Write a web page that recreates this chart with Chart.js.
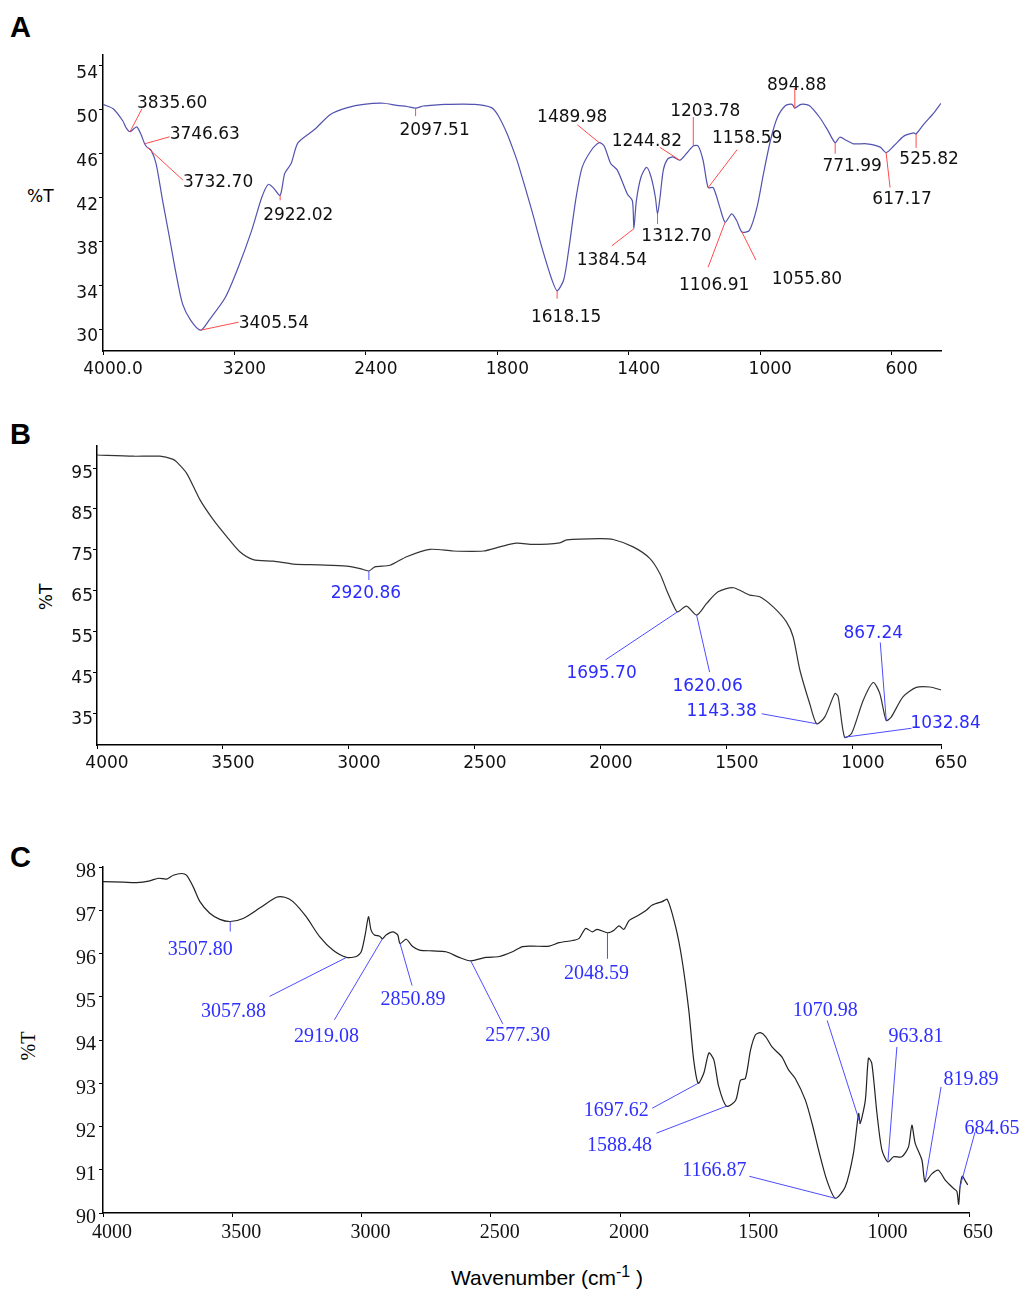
<!DOCTYPE html>
<html>
<head>
<meta charset="utf-8">
<script src="https://cdn.jsdelivr.net/npm/chart.js@4.4.0/dist/chart.umd.min.js"></script>
<style>
  body { margin: 0; background: #fff; width: 1027px; height: 1291px; position: relative; overflow: hidden; }
  canvas { position: absolute; left: 0; }
  .letter { position: absolute; left: 10px; font: bold 29px "Liberation Sans", Arial, sans-serif; color: #000; }
  .ylab { position: absolute; color: #000; white-space: nowrap; }
</style>
</head>
<body>
<div class="letter" style="top:11px">A</div>
<div class="letter" style="top:418px">B</div>
<div class="letter" style="top:841px">C</div>

<div class="ylab" style="left:27px;top:186px;font:17px 'DejaVu Sans',sans-serif">%T</div>
<div class="ylab" style="left:46px;top:597px;font:17px 'DejaVu Sans',sans-serif;transform:translate(-50%,-50%) rotate(-90deg)">%T</div>
<div class="ylab" style="left:28px;top:1046px;font:20px 'Liberation Serif',serif;transform:translate(-50%,-50%) rotate(-90deg)">%T</div>
<div class="ylab" style="left:547px;top:1263px;transform:translateX(-50%);font:21px 'Liberation Sans',Arial,sans-serif">Wavenumber (cm<sup style="font-size:16px">-1</sup> )</div>

<canvas id="chartA" width="1027" height="360" style="top:40px"></canvas>
<canvas id="chartB" width="1027" height="360" style="top:420px"></canvas>
<canvas id="chartC" width="1027" height="451" style="top:840px"></canvas>

<script>
// ---- panel A (x axis is compressed by 2 above 2000 cm-1) ----
const aWn = [4000, 3938, 3880, 3857, 3835.60, 3795, 3770, 3746.63, 3732.70, 3707, 3677, 3637, 3596, 3556, 3516, 3466,
  3405.54, 3355, 3255, 3175, 3095, 3034, 2994, 2964, 2922.02, 2894, 2855, 2813, 2713, 2614, 2512, 2413, 2293, 2211,
  2150, 2097.51, 2050, 2010, 1961, 1869, 1818, 1798, 1770, 1751, 1736, 1695, 1665, 1634, 1618.15, 1598, 1583, 1562,
  1542, 1512, 1489.98, 1475, 1455, 1435, 1404, 1389, 1384.54, 1377, 1363, 1346, 1332, 1319, 1312.70, 1305, 1295,
  1282, 1266, 1244.82, 1225, 1203.78, 1189, 1174, 1158.59, 1143, 1123, 1106.91, 1087, 1072, 1055.80, 1033, 1010,
  990, 969, 948, 923, 903, 894.88, 876, 851, 819, 794, 771.99, 758, 737, 717, 676, 635, 617.17, 594, 563, 533,
  525.82, 502, 471, 450];
const aT = [50.5, 50.1, 49.0, 48.3, 48.0, 48.45, 47.8, 46.9, 46.6, 46.3, 45.1, 41.7, 38.4, 35.1, 32.3, 30.8,
  29.9, 30.8, 32.9, 35.7, 39.0, 42.0, 43.2, 42.9, 42.2, 44.2, 45.1, 47.0, 48.2, 49.6, 50.2, 50.5, 50.6, 50.4,
  50.3, 50.15, 50.35, 50.4, 50.5, 50.5, 50.2, 49.5, 47.8, 46.3, 45.0, 40.8, 37.5, 34.5, 33.5, 34.5, 37.2, 41.7,
  44.75, 46.4, 47.0, 46.7, 45.1, 44.5, 42.3, 41.7, 39.15, 41.7, 43.85, 44.75, 43.85, 42.0, 40.5, 42.0, 44.5,
  45.5, 45.7, 45.4, 46.0, 46.7, 46.7, 45.4, 42.9, 42.9, 41.1, 39.75, 40.5, 39.9, 38.85, 39.0, 41.1,
  44.2, 47.2, 49.3, 50.4, 50.5, 50.15, 50.5, 50.4, 49.3, 48.1, 47.0, 47.5, 47.2, 46.9, 46.9, 46.6, 46.1, 46.7, 47.6, 47.9,
  47.8, 48.7, 49.75, 50.6];
const aXTicks = [4000, 3200, 2400, 1800, 1400, 1000, 600];
const aXTickLabels = ['4000.0', '3200', '2400', '1800', '1400', '1000', '600'];
const aYTicks = [30, 34, 38, 42, 46, 50, 54];
const aPeaks = [3835.60, 3746.63, 3732.70, 3405.54, 2922.02, 2097.51, 1618.15, 1489.98, 1384.54, 1312.70,
  1244.82, 1203.78, 1158.59, 1106.91, 1055.80, 894.88, 771.99, 617.17, 525.82];
// leader end dx,dy / text dx,dy / align  (pixels from the peak point)
const aLabelPos = [
  [12, -23, 7, -28, 'l'], [25, -7, 25, -9, 'l'], [36, 33, 36, 35, 'l'], [38, -8, 38, -7, 'l'],
  [0, 5, -17, 20, 'l'], [0, 8, 19, 22, 'c'], [0, 8, 9, 27, 'c'], [-22, -18, -27, -25, 'c'],
  [-22, 17, -22, 32, 'c'], [0, 10, 19, 23, 'c'], [-20, -13, -33, -19, 'c'], [0, -29, 12, -34, 'c'],
  [29, -38, 39, -49, 'c'], [-17, 45, -11, 63, 'c'], [14, 28, 65, 48, 'c'], [0, -20, 2, -23, 'c'],
  [0, 11, 17, 24, 'c'], [4, 35, 16, 47, 'c'], [0, 14, 13, 26, 'c']];

// ---- panel B ----
const bWn = [4000, 3856, 3750, 3700, 3684, 3644, 3591, 3538, 3485, 3433, 3380, 3300, 3221, 3115, 3009, 2956,
  2920.86, 2897, 2837, 2771, 2679, 2586, 2467, 2401, 2335, 2268, 2163, 2136, 2004, 1951, 1872, 1806, 1766, 1739,
  1713, 1695.70, 1660, 1620.06, 1581, 1535, 1475, 1409, 1369, 1316, 1263, 1237, 1210, 1171, 1143.38, 1111, 1071,
  1058, 1032.84, 1005, 959, 919, 893, 867.24, 847, 801, 748, 694, 650];
const bT = [98.2, 97.9, 97.9, 97.2, 96.5, 93.7, 87.2, 82.3, 78.2, 74.5, 72.6, 72.2, 71.5, 71.3, 71.0, 70.4,
  69.8, 70.8, 71.2, 73.3, 75.1, 74.7, 74.7, 75.7, 76.6, 76.3, 76.7, 77.4, 77.7, 77.5, 75.7, 72.9, 69.2, 65.1,
  61.5, 59.8, 61.2, 59.0, 61.8, 64.7, 65.7, 63.9, 63.5, 61.0, 57.3, 53.7, 45.5, 37.3, 32.4, 34.1, 39.8,
  39.0, 29.1, 30.0, 38.1, 42.5, 39.8, 33.2, 34.1, 39.0, 41.3, 41.4, 40.7];
const bXTicks = [4000, 3500, 3000, 2500, 2000, 1500, 1000, 650];
const bYTicks = [35, 45, 55, 65, 75, 85, 95];
const bPeaks = [2920.86, 1695.70, 1620.06, 1143.38, 1032.84, 867.24];
const bLabelPos = [
  [0, 9, -3, 23, 'c'], [-72, 48, -76, 62, 'c'], [13, 57, 11, 71, 'c'],
  [-55, -10, -95, -12, 'c'], [67, -9, 101, -14, 'c'], [-6, -78, -13, -87, 'c']];

// ---- panel C ----
const cWn = [4000, 3922, 3870, 3819, 3786, 3754, 3728, 3696, 3677, 3651, 3625, 3587, 3548, 3507.80, 3458, 3394,
  3329, 3297, 3265, 3214, 3162, 3111, 3057.88, 3020, 3001, 2985, 2973, 2963, 2950, 2930, 2919.08, 2905, 2879,
  2860, 2850.89, 2827, 2802, 2776, 2725, 2673, 2622, 2577.30, 2519, 2467, 2416, 2377, 2339, 2274, 2236, 2184,
  2158, 2133, 2107, 2088, 2048.59, 2023, 2004, 1985, 1965, 1927, 1901, 1875, 1837, 1817, 1785, 1760, 1734, 1715,
  1697.62, 1676, 1656, 1637, 1618, 1588.48, 1553, 1534, 1515, 1495, 1476, 1457, 1437, 1412, 1374, 1348, 1322,
  1283, 1257, 1232, 1200, 1166.87, 1129, 1097, 1077, 1070.98, 1051, 1039, 1026, 1006, 987, 963.81, 942, 910,
  884, 871, 858, 832, 819.89, 793, 768, 742, 710, 697, 690, 684.65, 676, 665, 655];
const cT = [97.66, 97.65, 97.64, 97.68, 97.74, 97.72, 97.81, 97.85, 97.81, 97.54, 97.2, 96.93, 96.79, 96.74, 96.81, 97.05,
  97.3, 97.3, 97.2, 96.85, 96.39, 96.08, 95.91, 95.93, 96.04, 96.46, 96.85, 96.54, 96.43, 96.4, 96.34, 96.43, 96.5,
  96.43, 96.23, 96.33, 96.16, 96.08, 96.06, 96.04, 95.91, 95.83, 95.91, 95.93, 96.04, 96.16, 96.17, 96.17, 96.25, 96.3,
  96.35, 96.58, 96.5, 96.56, 96.48, 96.54, 96.64, 96.56, 96.76, 96.89, 96.99, 97.12, 97.2, 97.25, 96.62, 95.85, 94.69, 93.54,
  93.0, 93.23, 93.7, 93.54, 92.92, 92.47, 92.6, 93.07, 93.11, 93.77, 94.12, 94.17, 94.08, 93.84, 93.61, 93.31, 93.11,
  92.61, 92.07, 91.46, 90.76, 90.34, 90.6, 91.38, 92.3, 92.07, 92.61, 93.58, 93.46, 92.3, 91.46, 91.18, 91.3, 91.3,
  91.53, 92.03, 91.61, 91.22, 90.72, 90.91, 90.99, 90.76, 90.57, 90.5, 90.2, 90.6, 90.85, 90.75, 90.65];
const cXTicks = [4000, 3500, 3000, 2500, 2000, 1500, 1000, 650];
const cYTicks = [90, 91, 92, 93, 94, 95, 96, 97, 98];
const cPeaks = [3507.80, 3057.88, 2919.08, 2850.89, 2577.30, 2048.59, 1697.62, 1588.48, 1166.87, 1070.98,
  963.81, 819.89, 684.65];
const cLabelPos = [
  [0, 10, -30, 28, 'c'], [-77, 39, -113, 54, 'c'], [-48, 81, -56, 98, 'c'], [12, 42, 13, 56, 'c'],
  [32, 63, 47, 75, 'c'], [0, 26, -11, 41, 'c'], [-46, 25, -82, 27, 'c'], [-70, 27, -107, 40, 'c'],
  [-86, -22, -121, -28, 'c'], [-33, -103, -35, -113, 'c'], [9, -115, 28, -125, 'c'], [16, -95, 46, -102, 'c'],
  [15, -55, 32, -58, 'c']];

const fold = w => (w > 2000 ? 2000 + (w - 2000) / 2 : w);
const same = w => w;

// value of the curve at a given wavenumber (arrays are in descending order)
function interp(wn, t, w) {
  for (let i = 0; i < wn.length - 1; i++) {
    if (w <= wn[i] && w >= wn[i + 1]) {
      const f = (wn[i] - w) / (wn[i] - wn[i + 1]);
      return t[i] + f * (t[i + 1] - t[i]);
    }
  }
  return t[t.length - 1];
}

function peakPlugin(cfg) {
  return {
    id: 'peakLabels',
    afterDatasetsDraw(chart) {
      const { ctx, scales: { x, y } } = chart;
      ctx.save();
      ctx.font = cfg.font;
      ctx.fillStyle = cfg.color;
      ctx.strokeStyle = cfg.lineColor;
      ctx.lineWidth = 1;
      ctx.textBaseline = 'middle';
      cfg.peaks.forEach((w, i) => {
        const [lx, ly, tx, ty, al] = cfg.pos[i];
        const px = x.getPixelForValue(cfg.fx(w));
        const py = y.getPixelForValue(interp(cfg.wn, cfg.t, w));
        ctx.beginPath();
        ctx.moveTo(px, py);
        ctx.lineTo(px + lx, py + ly);
        ctx.stroke();
        ctx.textAlign = al === 'l' ? 'left' : 'center';
        ctx.fillText(w.toFixed(2), px + tx, py + ty);
      });
      ctx.restore();
    }
  };
}

function makeChart(id, p) {
  const font = { family: p.family, size: p.size };
  const grid = { display: true, drawOnChartArea: false, drawTicks: true, tickLength: 4, color: '#000', lineWidth: 1 };
  const border = { display: true, color: '#000', width: 1.5 };
  return new Chart(document.getElementById(id), {
    type: 'line',
    data: {
      datasets: [{
        data: p.wn.map((w, i) => ({ x: p.fx(w), y: p.t[i] })),
        borderColor: p.lineColor,
        borderWidth: 1.2,
        pointRadius: 0,
        tension: 0.25,
        fill: false
      }]
    },
    options: {
      responsive: false,
      animation: false,
      events: [],
      layout: { padding: { top: p.padTop, right: p.padRight, left: 0, bottom: 0 } },
      plugins: { legend: { display: false }, tooltip: { enabled: false } },
      scales: {
        x: {
          type: 'linear', reverse: true, min: p.xMin, max: p.xMax,
          afterBuildTicks: s => { s.ticks = p.xTicks.map(v => ({ value: p.fx(v) })); },
          afterFit: s => { s.height = p.xHeight; },
          ticks: {
            autoSkip: false, maxRotation: 0, font, color: '#111', padding: 4, labelOffset: p.xLabelOffset,
            callback: (v, i) => p.xLabels[i]
          },
          grid, border
        },
        y: {
          min: p.yMin, max: p.yMax,
          afterBuildTicks: s => { s.ticks = p.yTicks.map(v => ({ value: v })); },
          afterFit: s => { s.width = p.yWidth; },
          ticks: { font, color: '#111', padding: p.yPad, labelOffset: p.yLabelOffset },
          grid, border
        }
      }
    },
    plugins: [peakPlugin({
      font: p.size + 'px ' + p.family, color: p.labelColor, lineColor: p.leaderColor,
      peaks: p.peaks, pos: p.pos, wn: p.wn, t: p.t, fx: p.fx
    })]
  });
}

makeChart('chartA', {
  wn: aWn, t: aT, fx: fold, xMin: 450, xMax: 3000, yMin: 28, yMax: 55,
  xTicks: aXTicks, xLabels: aXTickLabels, yTicks: aYTicks,
  padTop: 15, padRight: 86, xHeight: 49, yWidth: 103, xLabelOffset: 10, yLabelOffset: 8, yPad: 1,
  family: "'DejaVu Sans', sans-serif", size: 17, lineColor: '#5252b0',
  labelColor: '#111', leaderColor: '#ff4a4a', peaks: aPeaks, pos: aLabelPos
});

makeChart('chartB', {
  wn: bWn, t: bT, fx: same, xMin: 650, xMax: 4000, yMin: 27.2, yMax: 100.4,
  xTicks: bXTicks, xLabels: bXTicks.map(String), yTicks: bYTicks,
  padTop: 26, padRight: 86, xHeight: 35, yWidth: 97, xLabelOffset: 10, yLabelOffset: 6, yPad: 0,
  family: "'DejaVu Sans', sans-serif", size: 17, lineColor: '#333',
  labelColor: '#2b2bff', leaderColor: '#4d4dff', peaks: bPeaks, pos: bLabelPos
});

makeChart('chartC', {
  wn: cWn, t: cT, fx: same, xMin: 650, xMax: 4000, yMin: 90, yMax: 98,
  xTicks: cXTicks, xLabels: cXTicks.map(String), yTicks: cYTicks,
  padTop: 27, padRight: 58, xHeight: 78, yWidth: 103, xLabelOffset: 9, yLabelOffset: 5, yPad: 3,
  family: "'Liberation Serif', 'Times New Roman', serif", size: 20, lineColor: '#222',
  labelColor: '#3030ff', leaderColor: '#4d4dff', peaks: cPeaks, pos: cLabelPos
});
</script>
</body>
</html>
